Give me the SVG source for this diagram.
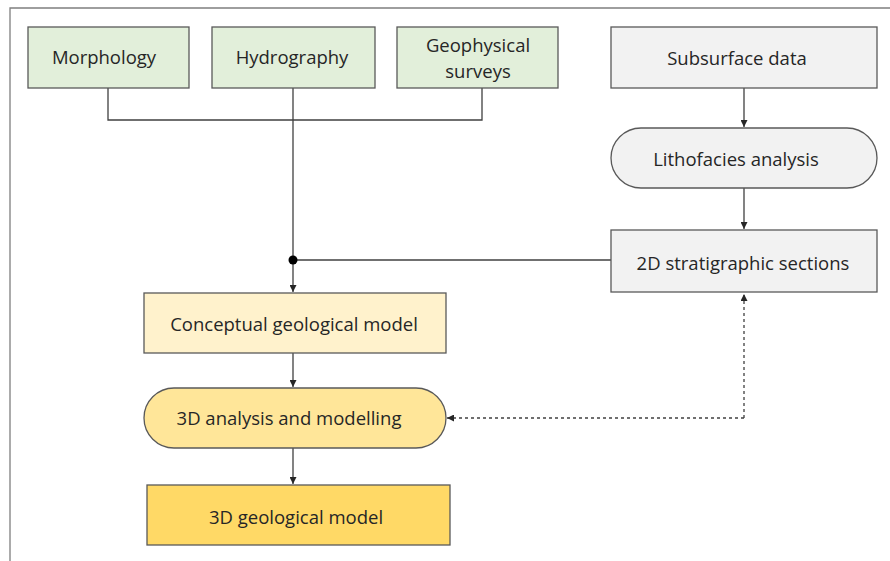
<svg xmlns="http://www.w3.org/2000/svg" width="890" height="561" viewBox="0 0 890 561">
<style>
.box{stroke:#595959;stroke-width:1.3}
.g{fill:#E2EFDA}.s{fill:#F2F2F2}.c{fill:#FFF2CC}.a{fill:#FFE699}.m{fill:#FFD966}
text{font-family:"Open Sans","Liberation Sans",sans-serif;font-size:18.5px;fill:#262626;text-anchor:middle;dominant-baseline:central}
.ln{fill:none;stroke:#404040;stroke-width:1.3}
.dash{stroke-dasharray:3 3}
</style>
<defs>
<marker id="ah" viewBox="0 0 10 10" refX="10" refY="5" markerWidth="7" markerHeight="7" markerUnits="userSpaceOnUse" orient="auto"><path d="M0,0 L10,5 L0,10 z" fill="#262626"/></marker>
</defs>
<rect width="890" height="561" fill="#fff"/>
<path d="M10,561 V8 H890" fill="none" stroke="#7f7f7f" stroke-width="1.3"/>
<g id="connectors">
<path class="ln" d="M108,88 V120 H482 V88"/>
<path class="ln" d="M293,88 V292" marker-end="url(#ah)"/>
<path class="ln" d="M293,260 H611"/>
<circle cx="293" cy="260" r="4.5" fill="#000"/>
<path class="ln" d="M744,88 V127" marker-end="url(#ah)"/>
<path class="ln" d="M744,188 V229" marker-end="url(#ah)"/>
<path class="ln" d="M293,353 V387" marker-end="url(#ah)"/>
<path class="ln" d="M293,448 V484" marker-end="url(#ah)"/>
<path class="ln dash" d="M744,418 V294" marker-end="url(#ah)"/>
<path class="ln dash" d="M744,418 H447" marker-end="url(#ah)"/>
</g>
<g id="morphology"><rect class="box g" x="28" y="27" width="161" height="61"/><text x="104" y="56">Morphology</text></g>
<g id="hydrography"><rect class="box g" x="212" y="27" width="163" height="61"/><text x="292" y="56">Hydrography</text></g>
<g id="geophysical"><rect class="box g" x="397" y="27" width="161" height="61"/><text x="478" y="44">Geophysical</text><text x="478" y="70">surveys</text></g>
<g id="subsurface"><rect class="box s" x="611" y="27" width="266" height="61"/><text x="737" y="57">Subsurface data</text></g>
<g id="lithofacies"><rect class="box s" x="611" y="128" width="266" height="60" rx="30"/><text x="736" y="158">Lithofacies analysis</text></g>
<g id="stratigraphic"><rect class="box s" x="611" y="230" width="266" height="62"/><text x="743" y="262">2D stratigraphic sections</text></g>
<g id="conceptual"><rect class="box c" x="144" y="293" width="302" height="60"/><text x="294" y="323">Conceptual geological model</text></g>
<g id="analysis"><rect class="box a" x="144" y="388" width="302" height="60" rx="30"/><text x="289" y="417">3D analysis and modelling</text></g>
<g id="model"><rect class="box m" x="147" y="485" width="303" height="60"/><text x="296" y="516">3D geological model</text></g>
</svg>
